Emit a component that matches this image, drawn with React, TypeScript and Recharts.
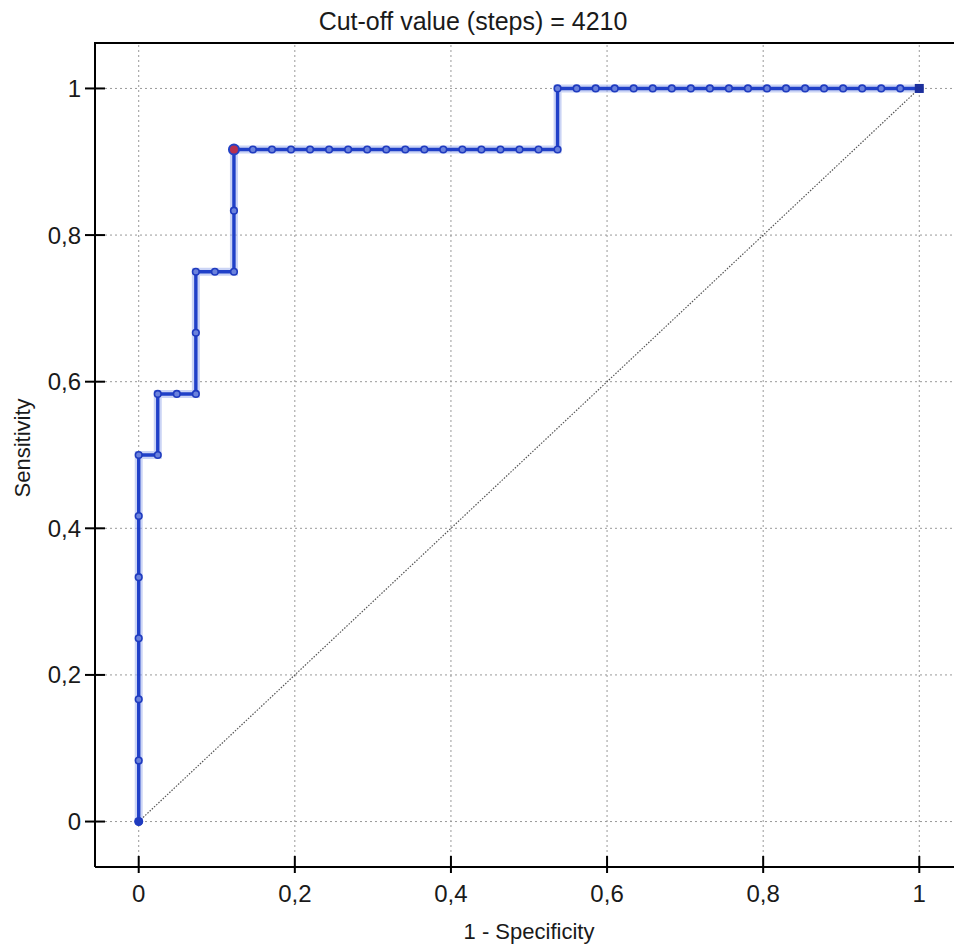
import { ReferenceLine, Scatter, ScatterChart, XAxis, YAxis } from 'recharts';

// ROC curve points (1 - specificity, sensitivity)
const fpr = [
  0, 0, 0, 0, 0, 0, 0,
  0.0244, 0.0244, 0.0488, 0.0732, 0.0732, 0.0732, 0.0976, 0.122, 0.122, 0.122,
  0.1463, 0.1707, 0.1951, 0.2195, 0.2439, 0.2683, 0.2927, 0.3171, 0.3415, 0.3659, 0.3902, 0.4146, 0.439,
  0.4634, 0.4878, 0.5122, 0.5366,
  0.5366,
  0.561, 0.5854, 0.6098, 0.6341, 0.6585, 0.6829, 0.7073, 0.7317, 0.7561, 0.7805, 0.8049, 0.8293, 0.8537,
  0.878, 0.9024, 0.9268, 0.9512, 0.9756, 1
];
const tpr = [
  0, 0.0833, 0.1667, 0.25, 0.3333, 0.4167, 0.5,
  0.5, 0.5833, 0.5833, 0.5833, 0.6667, 0.75, 0.75, 0.75, 0.8333, 0.9167,
  0.9167, 0.9167, 0.9167, 0.9167, 0.9167, 0.9167, 0.9167, 0.9167, 0.9167, 0.9167, 0.9167, 0.9167, 0.9167,
  0.9167, 0.9167, 0.9167, 0.9167,
  1,
  1, 1, 1, 1, 1, 1, 1, 1, 1, 1, 1, 1, 1,
  1, 1, 1, 1, 1, 1
];
const cutoffX = [0.122];
const cutoffY = [0.9167];
const diagX = [0, 1];
const diagY = [0, 1];
const ticks = [0, 0.2, 0.4, 0.6, 0.8, 1];
const title = 'Cut-off value (steps) = 4210';

const rocData = fpr.map((x, i) => ({ x, y: tpr[i] }));
const cutoffData = cutoffX.map((x, i) => ({ x, y: cutoffY[i] }));
const diagData = diagX.map((x, i) => ({ x, y: diagY[i] }));
const startData = [rocData[0]];
const endData = [rocData[rocData.length - 1]];

const FONT = '"Liberation Sans", Arial, sans-serif';
const fmt = (v: number) => String(v).replace('.', ',');

function XTick({ x, y, payload }: any) {
  return (
    <g>
      <line x1={x} x2={x} y1={y - 11} y2={y + 6} stroke="#000" strokeWidth={2} />
      <text x={x} y={y + 35} textAnchor="middle" fontSize={24} fontFamily={FONT} fill="#1a1a1a">
        {fmt(payload.value)}
      </text>
    </g>
  );
}

function YTick({ x, y, payload }: any) {
  return (
    <g>
      <line x1={x - 10} x2={x + 10} y1={y} y2={y} stroke="#000" strokeWidth={2} />
      <text x={x - 14} y={y + 8.5} textAnchor="end" fontSize={24} fontFamily={FONT} fill="#1a1a1a">
        {fmt(payload.value)}
      </text>
    </g>
  );
}

const dot = (p: any) => (
  <circle cx={p.cx} cy={p.cy} r={3.3} fill="#6b82dc" stroke="#1f3bbf" strokeWidth={1.6} />
);
const none = () => <g />;

export default function App() {
  return (
    <div style={{ position: 'fixed', left: 0, top: 0, width: 954, height: 947, overflow: 'hidden', background: '#fff' }}>
      <div
        style={{
          position: 'absolute',
          left: 0,
          top: 6,
          width: 946,
          textAlign: 'center',
          fontFamily: FONT,
          fontSize: 25,
          lineHeight: '30px',
          color: '#1a1a1a'
        }}
      >
        {title}
      </div>
      <div style={{ position: 'absolute', left: 94, top: 42, width: 880, height: 2, background: '#000' }} />
      <ScatterChart width={975} height={947} margin={{ top: 43, right: 12, bottom: 0, left: 0 }}>
        <XAxis
          type="number"
          dataKey="x"
          domain={[-0.056, 1.056]}
          ticks={ticks}
          allowDataOverflow
          height={80}
          tickSize={0}
          tickMargin={0}
          tickLine={false}
          tick={<XTick />}
          axisLine={{ stroke: '#000', strokeWidth: 2 }}
          label={{
            content: () => (
              <text x={529} y={939} textAnchor="middle" fontSize={22} fontFamily={FONT} fill="#1a1a1a">
                1 - Specificity
              </text>
            )
          }}
        />
        <YAxis
          type="number"
          dataKey="y"
          domain={[-0.062, 1.062]}
          ticks={ticks}
          allowDataOverflow
          width={95}
          tickSize={0}
          tickMargin={0}
          tickLine={false}
          tick={<YTick />}
          axisLine={{ stroke: '#000', strokeWidth: 2 }}
          label={{
            content: () => (
              <text
                x={30}
                y={448}
                textAnchor="middle"
                fontSize={22}
                fontFamily={FONT}
                fill="#1a1a1a"
                transform="rotate(-90, 30, 448)"
              >
                Sensitivity
              </text>
            )
          }}
        />
        {ticks.map((t) => (
          <ReferenceLine key={'gx' + t} x={t} stroke="#999" strokeDasharray="2 3" />
        ))}
        {ticks.map((t) => (
          <ReferenceLine key={'gy' + t} y={t} stroke="#999" strokeDasharray="2 3" />
        ))}
        <Scatter
          data={diagData}
          line={{ stroke: '#555', strokeWidth: 1.2, strokeDasharray: '1.5 1.5' }}
          shape={none}
          isAnimationActive={false}
        />
        <Scatter
          data={rocData}
          line={{ stroke: '#a9b7ee', strokeWidth: 8, strokeOpacity: 0.6 }}
          shape={none}
          isAnimationActive={false}
        />
        <Scatter
          data={rocData}
          line={{ stroke: '#2040c8', strokeWidth: 3.4 }}
          shape={dot}
          isAnimationActive={false}
        />
        <Scatter
          data={startData}
          shape={(p: any) => <circle cx={p.cx} cy={p.cy} r={4.5} fill="#1f3bbf" />}
          isAnimationActive={false}
        />
        <Scatter
          data={endData}
          shape={(p: any) => <rect x={p.cx - 4.5} y={p.cy - 4.5} width={9} height={9} fill="#1c2f9c" />}
          isAnimationActive={false}
        />
        <Scatter
          data={cutoffData}
          shape={(p: any) => <circle cx={p.cx} cy={p.cy} r={5} fill="#b8304f" stroke="#2442c6" strokeWidth={2} />}
          isAnimationActive={false}
        />
      </ScatterChart>
    </div>
  );
}
